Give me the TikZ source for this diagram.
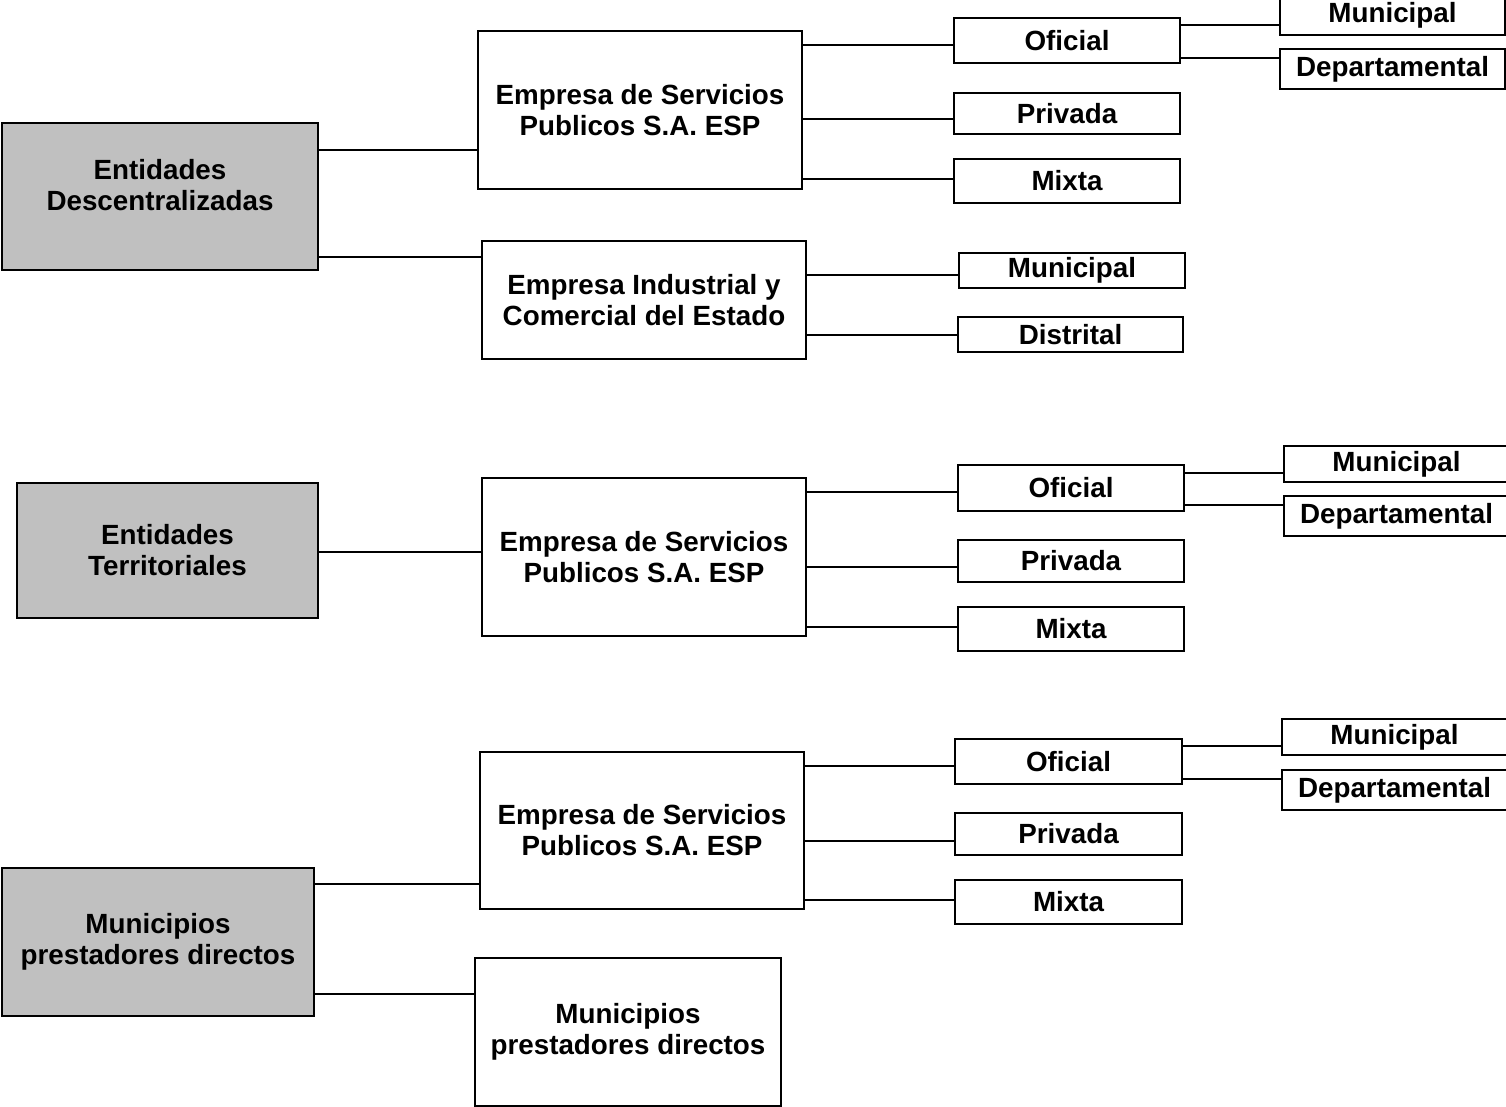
\documentclass[tikz,border=0pt]{standalone}
\usepackage{fontspec}
\setmainfont{Liberation Sans}
\definecolor{grisbox}{HTML}{C0C0C0}
\tikzset{
  box/.style={draw,line width=0.6pt,align=center,inner sep=0pt},
  gbox/.style={box,fill=grisbox},
}
\begin{document}
\begin{tikzpicture}[x=0.01cm,y=-0.01cm,line width=0.6pt,font=\fontsize{7.9}{8.8}\selectfont\bfseries]
		\useasboundingbox (0,0) rectangle (1506,1107);
		\clip (0,0) rectangle (1506,1107);
		% Entidades Descentralizadas
		\node[gbox,minimum width=3.16cm,minimum height=1.47cm] (ent1) at (160,196.5) {};
		\node[align=center] (ent1txt) at ([yshift=0.11cm]ent1.center) {Entidades\\Descentralizadas};
		\node[box,minimum width=3.24cm,minimum height=1.58cm] (esp1) at (640,110) {Empresa de Servicios\\Publicos S.A. ESP};
		\node[box,minimum width=3.24cm,minimum height=1.18cm] (eic) at (644,300) {Empresa Industrial y\\Comercial del Estado};
		\node[box,minimum width=2.26cm,minimum height=0.45cm] (ofi1) at (1067,40.5) {Oficial};
		\node[box,minimum width=2.26cm,minimum height=0.41cm] (pri1) at (1067,113.5) {Privada};
		\node[box,minimum width=2.26cm,minimum height=0.44cm] (mix1) at (1067,181) {Mixta};
		\node[box,minimum width=2.25cm,minimum height=0.39cm] (mun1) at (1392.5,15.5) {Municipal};
		\node[box,minimum width=2.25cm,minimum height=0.40cm] (dep1) at (1392.5,69) {Departamental};
		\node[box,minimum width=2.26cm,minimum height=0.35cm] (mune) at (1072,270.5) {Municipal};
		\node[box,minimum width=2.25cm,minimum height=0.35cm] (dis) at (1070.5,334.5) {Distrital};
		\draw (ent1.east |- 0,150) -- (esp1.west |- 0,150);
		\draw (ent1.east |- 0,257) -- (eic.west |- 0,257);
		\draw (esp1.east |- 0,45) -- (ofi1.west |- 0,45);
		\draw (esp1.east |- 0,119) -- (pri1.west |- 0,119);
		\draw (esp1.east |- 0,179) -- (mix1.west |- 0,179);
		\draw (ofi1.east |- 0,25) -- (mun1.west |- 0,25);
		\draw (ofi1.east |- 0,58) -- (dep1.west |- 0,58);
		\draw (eic.east |- 0,275) -- (mune.west |- 0,275);
		\draw (eic.east |- 0,335) -- (dis.west |- 0,335);
		% Entidades Territoriales
		\node[gbox,minimum width=3.01cm,minimum height=1.35cm] (ent2) at (167.5,550.5) {Entidades\\Territoriales};
		\node[box,minimum width=3.24cm,minimum height=1.58cm] (esp2) at (644,557) {Empresa de Servicios\\Publicos S.A. ESP};
		\node[box,minimum width=2.26cm,minimum height=0.46cm] (ofi2) at (1071,488) {Oficial};
		\node[box,minimum width=2.26cm,minimum height=0.42cm] (pri2) at (1071,561) {Privada};
		\node[box,minimum width=2.26cm,minimum height=0.44cm] (mix2) at (1071,629) {Mixta};
		\node[box,minimum width=2.25cm,minimum height=0.36cm] (mun2) at (1396.5,464) {Municipal};
		\node[box,minimum width=2.25cm,minimum height=0.40cm] (dep2) at (1396.5,516) {Departamental};
		\draw (ent2.east |- 0,552) -- (esp2.west |- 0,552);
		\draw (esp2.east |- 0,492) -- (ofi2.west |- 0,492);
		\draw (esp2.east |- 0,567) -- (pri2.west |- 0,567);
		\draw (esp2.east |- 0,627) -- (mix2.west |- 0,627);
		\draw (ofi2.east |- 0,473) -- (mun2.west |- 0,473);
		\draw (ofi2.east |- 0,505) -- (dep2.west |- 0,505);
		% Municipios prestadores directos
		\node[gbox,minimum width=3.12cm,minimum height=1.48cm] (ent3) at (158,942) {Municipios\\prestadores directos};
		\node[box,minimum width=3.24cm,minimum height=1.57cm] (esp3) at (642,830.5) {Empresa de Servicios\\Publicos S.A. ESP};
		\node[box,minimum width=3.06cm,minimum height=1.48cm] (mpd) at (628,1032) {Municipios\\prestadores directos};
		\node[box,minimum width=2.27cm,minimum height=0.45cm] (ofi3) at (1068.5,761.5) {Oficial};
		\node[box,minimum width=2.27cm,minimum height=0.42cm] (pri3) at (1068.5,834) {Privada};
		\node[box,minimum width=2.27cm,minimum height=0.44cm] (mix3) at (1068.5,902) {Mixta};
		\node[box,minimum width=2.25cm,minimum height=0.36cm] (mun3) at (1394.5,737) {Municipal};
		\node[box,minimum width=2.25cm,minimum height=0.40cm] (dep3) at (1394.5,790) {Departamental};
		\draw (ent3.east |- 0,884) -- (esp3.west |- 0,884);
		\draw (ent3.east |- 0,994) -- (mpd.west |- 0,994);
		\draw (esp3.east |- 0,766) -- (ofi3.west |- 0,766);
		\draw (esp3.east |- 0,841) -- (pri3.west |- 0,841);
		\draw (esp3.east |- 0,900) -- (mix3.west |- 0,900);
		\draw (ofi3.east |- 0,746) -- (mun3.west |- 0,746);
		\draw (ofi3.east |- 0,779) -- (dep3.west |- 0,779);
		\end{tikzpicture}
\end{document}
